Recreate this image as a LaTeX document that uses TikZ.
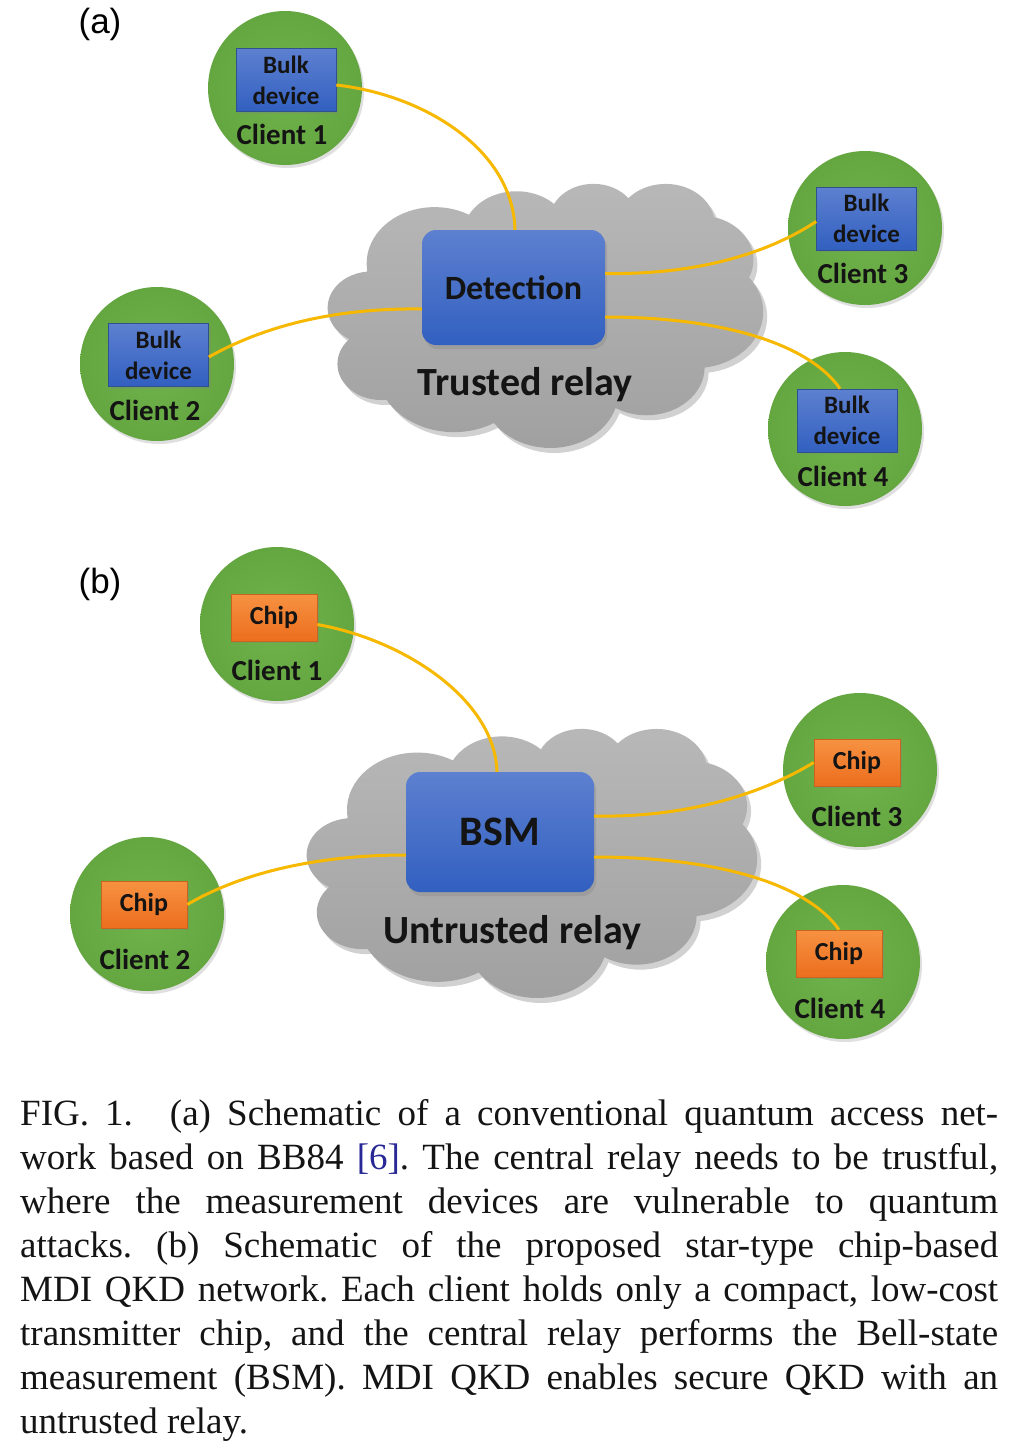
\documentclass[tikz,border=0pt]{standalone}
\usepackage{fontspec}
\setmainfont{Liberation Serif}
\newfontfamily\carl{Carlito}
\newfontfamily\lsans{Liberation Sans}
\usetikzlibrary{shadows}
\frenchspacing
\definecolor{cgreen}{RGB}{106,173,70}
\definecolor{cgreenin}{RGB}{112,180,76}
\definecolor{cgreenout}{RGB}{100,166,64}
\definecolor{btop}{RGB}{93,128,208}
\definecolor{bbot}{RGB}{50,96,192}
\definecolor{bline}{RGB}{47,82,143}
\definecolor{otop}{RGB}{246,146,66}
\definecolor{obot}{RGB}{236,110,30}
\definecolor{oline}{RGB}{200,100,30}
\definecolor{wire}{RGB}{247,184,0}
\definecolor{ctop}{RGB}{184,184,184}
\definecolor{cbot}{RGB}{160,160,160}
\definecolor{citeblue}{RGB}{40,40,150}
\definecolor{txt}{RGB}{20,20,20}
% cloud arc angle conversion (OOXML visual angle -> parametric)
\newcommand\mkarc[5]{%
  \pgfmathsetmacro\tmpA{atan2(#2*sin(#4),#3*cos(#4))}%
  \pgfmathsetmacro\tmpB{atan2(#2*sin(#4+#5),#3*cos(#4+#5))}%
  \pgfmathsetmacro\tmpD{\tmpB-\tmpA}%
  \pgfmathsetmacro\tmpD{ifthenelse(#5>0,ifthenelse(\tmpD<0,\tmpD+360,\tmpD),ifthenelse(\tmpD>0,\tmpD-360,\tmpD))}%
  \expandafter\xdef\csname cs#1\endcsname{\tmpA}%
  \expandafter\xdef\csname cd#1\endcsname{\tmpD}%
}
\mkarc{a}{67.53}{91.90}{-190.48748}{123.78053}
\mkarc{b}{53.33}{72.67}{-144.10238}{89.94523}
\mkarc{c}{43.65}{59.45}{-145.80792}{99.72302}
\mkarc{d}{48.57}{65.95}{-130.98607}{117.24173}
\mkarc{e}{53.33}{72.73}{-78.70888}{109.02692}
\mkarc{f}{67.75}{92.20}{-46.26725}{130.26900}
\mkarc{g}{57.85}{78.67}{0.62502}{114.03333}
\mkarc{h}{67.52}{92.15}{22.45160}{115.17255}
\mkarc{i}{77.20}{105.43}{66.24263}{75.71102}
\mkarc{j}{43.60}{59.18}{-274.94208}{146.73557}
\mkarc{k}{43.45}{59.45}{-246.82850}{152.51885}
\newcommand\CA[1]{arc[start angle=\csname cs#1\endcsname, delta angle=\csname cd#1\endcsname, x radius=\csname rx#1\endcsname, y radius=\csname ry#1\endcsname]}
\def\rxa{67.53}\def\rya{91.90}
\def\rxb{53.33}\def\ryb{72.67}
\def\rxc{43.65}\def\ryc{59.45}
\def\rxd{48.57}\def\ryd{65.95}
\def\rxe{53.33}\def\rye{72.73}
\def\rxf{67.75}\def\ryf{92.20}
\def\rxg{57.85}\def\ryg{78.67}
\def\rxh{67.52}\def\ryh{92.15}
\def\rxi{77.20}\def\ryi{105.43}
\def\rxj{43.60}\def\ryj{59.18}
\def\rxk{43.45}\def\ryk{59.45}
\newcommand\cloudpath{(39,143.7) \CA{a} \CA{b} \CA{c} \CA{d} \CA{e} \CA{f} \CA{g} \CA{h} \CA{i} \CA{j} \CA{k} -- cycle}
% #1 left, #2 top, #3 width, #4 height
\newcommand\drawcloud[4]{%
  \pgfmathsetmacro\sx{#3/432}\pgfmathsetmacro\sy{#4/432}%
  \begin{scope}[shift={(#1+4,#2+5)}, x=\sx pt, y=-\sy pt]
    \fill[black, opacity=0.18] \cloudpath;
  \end{scope}
  \begin{scope}[shift={(#1,#2)}, x=\sx pt, y=-\sy pt]
    \shade[top color=ctop, bottom color=cbot] \cloudpath;
  \end{scope}}
\tikzset{
  client/.style={circle, minimum size=154pt, inner sep=0pt, inner color=cgreenin, outer color=cgreenout,
    drop shadow={shadow xshift=2pt, shadow yshift=-3pt, opacity=0.25}},
  bulkbox/.style={rectangle, minimum width=100pt, minimum height=63pt, inner sep=0pt,
    top color=btop, bottom color=bbot, draw=bline, line width=0.6pt, align=center,
    font=\carl\bfseries\fontsize{25}{31}\selectfont, text=txt,
    drop shadow={shadow xshift=2pt, shadow yshift=-2pt, opacity=0.3}},
  chipbox/.style={rectangle, minimum width=86pt, minimum height=47pt, inner sep=0pt,
    top color=otop, bottom color=obot, draw=oline, line width=0.6pt,
    font=\carl\bfseries\fontsize{26}{30}\selectfont, text=txt,
    drop shadow={shadow xshift=2pt, shadow yshift=-2pt, opacity=0.3}},
  centerbox/.style={rectangle, rounded corners=14pt, inner sep=0pt,
    top color=btop, bottom color=bbot, text=txt,
    drop shadow={shadow xshift=2pt, shadow yshift=-4pt, opacity=0.3}},
  clabel/.style={font=\carl\bfseries\fontsize{29}{34}\selectfont, text=txt, inner sep=0pt},
  relaylabel/.style={font=\carl\bfseries\fontsize{40}{46}\selectfont, text=txt, inner sep=0pt},
  panellabel/.style={font=\lsans\fontsize{35}{40}\selectfont, inner sep=0pt},
  conn/.style={draw=wire, line width=3pt},
  capline/.style={anchor=base west, inner sep=0pt, font=\fontsize{37}{44}\selectfont, text=txt}
}
\begin{document}
\begin{tikzpicture}[x=1pt,y=-1pt]
\useasboundingbox (0,0) rectangle (1010,1449);
\fill[white] (0,0) rectangle (1010,1449);

% ---------- panel (a) ----------
\node[panellabel] (la) at (100,24) {(a)};
\drawcloud{328}{183}{435}{264}
\node[client] (ca1) at (285,88) {};
\node[client] (ca3) at (865,228) {};
\node[client] (ca2) at (157,364) {};
\node[client] (ca4) at (845,429) {};
\node[bulkbox] (ba1) at (286,80) {Bulk\\device};
\node[bulkbox] (ba3) at (866.5,218.5) {Bulk\\device};
\node[bulkbox] (ba2) at (158.5,355) {Bulk\\device};
\node[bulkbox] (ba4) at (847,420.5) {Bulk\\device};
\node[clabel] (ta1) at (282,134) {Client 1};
\node[clabel] (ta3) at (863,273) {Client 3};
\node[clabel] (ta2) at (155,410) {Client 2};
\node[clabel] (ta4) at (843,476) {Client 4};
\node[centerbox, minimum width=183pt, minimum height=115pt, font=\carl\bfseries\fontsize{34}{40}\selectfont] (det) at (513.5,287.5) {Detection};
\node[relaylabel] (tra) at (525,385) {Trusted relay};
\draw[conn] ([yshift=-5pt]ba1.east) .. controls (425,95) and (513,150) .. ([xshift=1.5pt]det.north);
\draw[conn] ([yshift=14pt]det.east) .. controls (700,275) and (770,252) .. ([yshift=-3pt]ba3.west);
\draw[conn] ([yshift=-29.5pt]det.east) .. controls (725,317) and (810,345) .. ([xshift=-7pt]ba4.north);
\draw[conn] ([yshift=-2pt]ba2.east) .. controls (275,320) and (350,308) .. ([yshift=-21.5pt]det.west);

% ---------- panel (b) ----------
\node[panellabel] (lb) at (100,584) {(b)};
\drawcloud{307}{728}{450}{269}
\node[client] (cb1) at (277,624) {};
\node[client] (cb3) at (860,770) {};
\node[client] (cb2) at (147,914) {};
\node[client] (cb4) at (843,962) {};
\node[chipbox] (hb1) at (274,617.5) {Chip};
\node[chipbox] (hb3) at (857,762.5) {Chip};
\node[chipbox] (hb2) at (144,904.5) {Chip};
\node[chipbox] (hb4) at (839,953.5) {Chip};
\node[clabel] (tb1) at (277,670) {Client 1};
\node[clabel] (tb3) at (857,816) {Client 3};
\node[clabel] (tb2) at (145,959) {Client 2};
\node[clabel] (tb4) at (840,1008) {Client 4};
\node[centerbox, minimum width=188pt, minimum height=120pt, font=\carl\bfseries\fontsize{42}{48}\selectfont] (bsm) at (500,832) {BSM};
\node[relaylabel] (trb) at (512,933) {Untrusted relay};
\draw[conn] ([yshift=-7pt]hb1.east) .. controls (405,640) and (495,700) .. ([xshift=-3pt]bsm.north);
\draw[conn] ([yshift=16pt]bsm.east) .. controls (690,818) and (765,792) .. (hb3.west);
\draw[conn] ([yshift=-25pt]bsm.east) .. controls (720,857) and (808,885) .. (hb4.north);
\draw[conn] (hb2.east) .. controls (250,868) and (330,855) .. ([yshift=-23pt]bsm.west);

% ---------- caption ----------
\node[capline] (l1) at (20,1125) {\makebox[978pt][s]{FIG. 1.\quad (a) Schematic of a conventional quantum access net-}};
\node[capline] (l2) at (20,1169) {\makebox[978pt][s]{work based on BB84 {\color{citeblue}[6]}. The central relay needs to be trustful,}};
\node[capline] (l3) at (20,1213) {\makebox[978pt][s]{where the measurement devices are vulnerable to quantum}};
\node[capline] (l4) at (20,1257) {\makebox[978pt][s]{attacks. (b) Schematic of the proposed star-type chip-based}};
\node[capline] (l5) at (20,1301) {\makebox[978pt][s]{MDI QKD network. Each client holds only a compact, low-cost}};
\node[capline] (l6) at (20,1345) {\makebox[978pt][s]{transmitter chip, and the central relay performs the Bell-state}};
\node[capline] (l7) at (20,1389) {\makebox[978pt][s]{measurement (BSM). MDI QKD enables secure QKD with an}};
\node[capline] (l8) at (20,1433) {untrusted relay.};
\end{tikzpicture}
\end{document}
